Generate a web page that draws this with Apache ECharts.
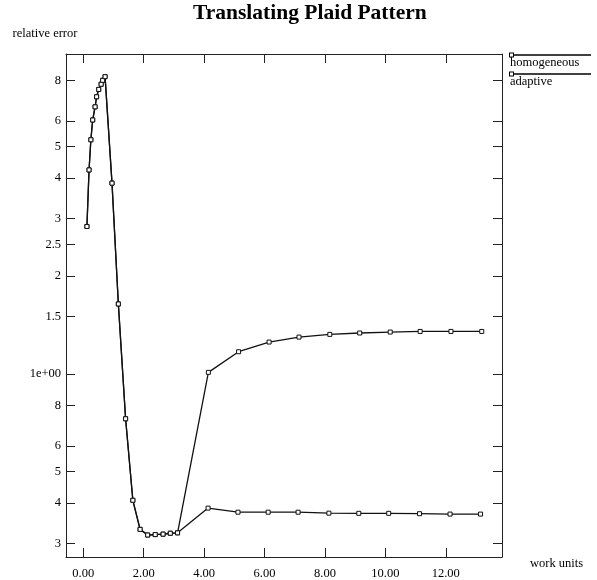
<!DOCTYPE html>
<html>
<head>
<meta charset="utf-8">
<script src="https://cdn.jsdelivr.net/npm/echarts@6/dist/echarts.min.js"></script>
<style>
  html, body { margin: 0; padding: 0; background: #fff; }
  #main { width: 597px; height: 580px; }
</style>
</head>
<body>
<div id="main"></div>
<script>
var chart = echarts.init(document.getElementById('main'));

// points shared by both runs (up to ~3 work units)
var sharedX = [0.12, 0.19, 0.25, 0.31, 0.39, 0.44, 0.51, 0.59, 0.64, 0.72, 0.95, 1.16, 1.40, 1.64, 1.88, 2.13, 2.38, 2.64, 2.88, 3.12];
var sharedY = [2.84, 4.24, 5.25, 6.04, 6.63, 7.12, 7.50, 7.78, 8.00, 8.21, 3.86, 1.64, 0.727, 0.408, 0.332, 0.319, 0.320, 0.321, 0.323, 0.324];

// homogeneous branch
var homoX = [4.14, 5.14, 6.15, 7.14, 8.16, 9.15, 10.16, 11.15, 12.17, 13.19];
var homoY = [1.01, 1.169, 1.252, 1.297, 1.322, 1.335, 1.344, 1.35, 1.35, 1.35];

// adaptive branch
var adaptX = [4.13, 5.12, 6.12, 7.11, 8.13, 9.12, 10.11, 11.13, 12.14, 13.15];
var adaptY = [0.386, 0.375, 0.375, 0.375, 0.3725, 0.372, 0.372, 0.371, 0.370, 0.370];

var xTicks = [0, 2, 4, 6, 8, 10, 12];
var yTicks = [0.3, 0.4, 0.5, 0.6, 0.8, 1, 1.5, 2, 2.5, 3, 4, 5, 6, 8];

var serif = 'Liberation Serif';

function pairs(xs, ys) {
    return xs.map(function (x, i) { return [x, ys[i]]; });
}

var xMin = -0.573, xMax = 13.86;
var yMin = 0.273, yMax = 9.64;

var lineStyle = { color: '#111', width: 1.3 };
var pointStyle = { color: '#fff', borderColor: '#111', borderWidth: 1 };
var frame = { onZero: false, lineStyle: { color: '#222', width: 1 } };

option = {
    animation: false,
    title: {
        text: 'Translating Plaid Pattern',
        left: 188,
        top: -3,
        textStyle: {
            fontFamily: serif,
            fontSize: 21.5,
            fontWeight: 'bold',
            color: '#000'
        }
    },
    legend: {
        orient: 'vertical',
        left: 504,
        top: 49,
        padding: 0,
        itemWidth: 0,
        itemHeight: 0,
        itemGap: -1,
        selectedMode: false,
        formatter: function (name) {
            return '{m|}{l|}\n{t|' + name + '}';
        },
        textStyle: {
            rich: {
                m: { width: 3, height: 3, lineHeight: 4, borderColor: '#000', borderWidth: 1, backgroundColor: '#fff' },
                l: { width: 78, height: 1.3, lineHeight: 4, backgroundColor: '#000' },
                t: { fontFamily: serif, fontSize: 12.5, color: '#000', lineHeight: 11 }
            }
        },
        data: ['homogeneous', 'adaptive']
    },
    grid: {
        left: 66,
        right: 95,
        top: 54,
        bottom: 23
    },
    xAxis: [
        {
            type: 'value',
            min: xMin,
            max: xMax,
            name: 'work units',
            nameLocation: 'end',
            nameGap: 28,
            nameTextStyle: {
                fontFamily: serif,
                fontSize: 12.5,
                color: '#000',
                verticalAlign: 'top'
            },
            axisLine: frame,
            axisTick: { inside: true, length: 9, customValues: xTicks, lineStyle: { color: '#222' } },
            axisLabel: {
                customValues: xTicks,
                margin: 10,
                fontFamily: serif,
                fontSize: 12.5,
                color: '#000',
                formatter: function (v) { return v.toFixed(2); }
            },
            splitLine: { show: false }
        },
        {
            type: 'value',
            position: 'top',
            min: xMin,
            max: xMax,
            axisLine: frame,
            axisTick: { inside: true, length: 9, customValues: xTicks, lineStyle: { color: '#222' } },
            axisLabel: { show: false },
            splitLine: { show: false }
        }
    ],
    yAxis: [
        {
            type: 'log',
            min: yMin,
            max: yMax,
            name: 'relative error',
            nameLocation: 'end',
            nameGap: 14,
            nameTextStyle: {
                fontFamily: serif,
                fontSize: 12.5,
                color: '#000',
                align: 'center',
                padding: [0, 42, 0, 0]
            },
            axisLine: { show: true, onZero: false, lineStyle: { color: '#222', width: 1 } },
            axisTick: { inside: true, length: 9, customValues: yTicks, lineStyle: { color: '#222' } },
            axisLabel: {
                customValues: yTicks,
                margin: 5,
                fontFamily: serif,
                fontSize: 12.5,
                color: '#000',
                formatter: function (v) {
                    if (v === 1) return '1e+00';
                    if (v < 1) return String(Math.round(v * 10));
                    return String(v);
                }
            },
            splitLine: { show: false }
        },
        {
            type: 'log',
            position: 'right',
            min: yMin,
            max: yMax,
            axisLine: { show: true, onZero: false, lineStyle: { color: '#222', width: 1 } },
            axisTick: { inside: true, length: 9, customValues: yTicks, lineStyle: { color: '#222' } },
            axisLabel: { show: false },
            splitLine: { show: false }
        }
    ],
    series: [
        {
            name: 'homogeneous',
            type: 'line',
            symbol: 'rect',
            symbolSize: 4,
            showAllSymbol: true,
            itemStyle: pointStyle,
            lineStyle: lineStyle,
            data: pairs(sharedX.concat(homoX), sharedY.concat(homoY))
        },
        {
            name: 'adaptive',
            type: 'line',
            symbol: 'rect',
            symbolSize: 4,
            showAllSymbol: true,
            itemStyle: pointStyle,
            lineStyle: lineStyle,
            data: pairs(sharedX.concat(adaptX), sharedY.concat(adaptY))
        }
    ]
};

chart.setOption(option);
</script>
</body>
</html>
